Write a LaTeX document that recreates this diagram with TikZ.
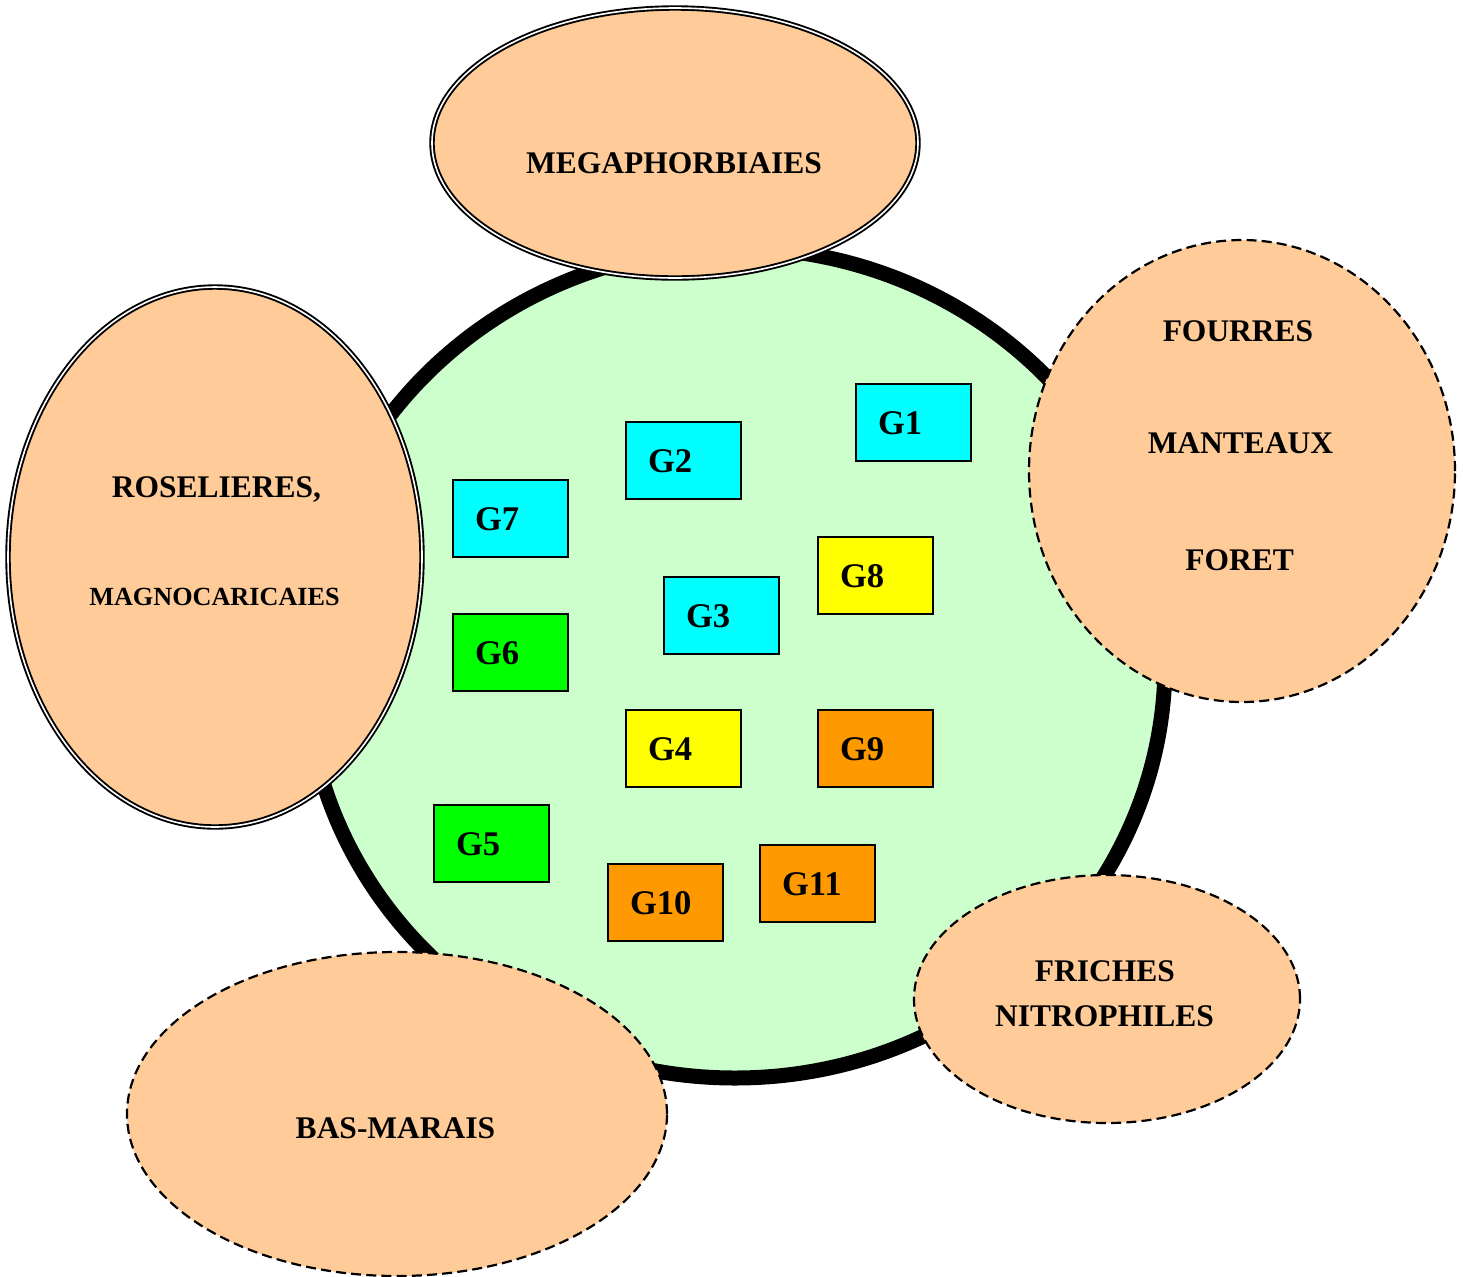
\documentclass[tikz,border=0pt]{standalone}
\usepackage{fontspec}
\setmainfont{Liberation Serif}
\usetikzlibrary{shapes.geometric}
\definecolor{peach}{HTML}{FFCC99}
\definecolor{mint}{HTML}{CCFFCC}
\definecolor{gcyan}{HTML}{00FFFF}
\definecolor{gyellow}{HTML}{FFFF00}
\definecolor{ggreen}{HTML}{00FF00}
\definecolor{gorange}{HTML}{FF9900}
\begin{document}
\begin{tikzpicture}[x=0.5pt,y=-0.5pt,
  habitat/.style={ellipse, fill=peach, inner sep=0pt, outer sep=0pt},
  dbl/.style={habitat, draw=black, line width=0.95pt, double=white, double distance=0.8pt},
  dsh/.style={habitat, draw=black, line width=1.1pt, dash pattern=on 5pt off 2.6pt},
  lbl/.style={font=\bfseries\fontsize{15.75}{18}\selectfont, inner sep=0pt, text height=10.4pt, text depth=0pt},
  small/.style={lbl, font=\bfseries\fontsize{13.1}{15}\selectfont, text height=8.7pt},
  gbox/.style={rectangle, draw=black, line width=1.3pt, minimum width=57.5pt, minimum height=38.5pt,
    inner xsep=11pt, inner ysep=0pt, text width=35.5pt, align=left,
    font=\bfseries\fontsize{17.3}{20}\selectfont, text height=11.5pt, text depth=0pt}
]
\useasboundingbox (0,0) rectangle (1463,1276);
\fill[white] (0,0) rectangle (1463,1276);

% central group
\node[ellipse, draw=black, line width=7.5pt, fill=mint, inner sep=0pt,
      minimum width=430pt, minimum height=415pt] (core) at (735,663) {};

% surrounding habitats
\node[dbl, minimum width=243pt, minimum height=135pt] (mega) at (675,143) {};
\node[dbl, minimum width=207pt, minimum height=270pt] (rose) at (215,557) {};
\node[dsh, minimum width=213pt, minimum height=231pt] (four) at (1242,471) {};
\node[dsh, minimum width=193pt, minimum height=124pt] (fric) at (1107,999) {};
\node[dsh, minimum width=270pt, minimum height=162pt] (bas) at (397,1114) {};

% labels
\node[lbl] (tmega) at (674,163) {MEGAPHORBIAIES};
\node[lbl] (trose) at (216.5,487) {ROSELIERES,};
\node[small] (tmagno) at (214.5,597) {MAGNOCARICAIES};
\node[lbl] (tfour) at (1238,331) {FOURRES};
\node[lbl] (tmant) at (1240.5,443) {MANTEAUX};
\node[lbl] (tfor) at (1239.5,560) {FORET};
\node[lbl] (tfric) at (1105,971) {FRICHES};
\node[lbl] (tnitro) at (1104.5,1016) {NITROPHILES};
\node[lbl] (tbas) at (395.5,1128) {BAS-MARAIS};

% groups
\node[gbox, fill=gcyan] (g1) at (913.5,422.5) {G1};
\node[gbox, fill=gcyan] (g2) at (683.5,460.5) {G2};
\node[gbox, fill=gcyan] (g7) at (510.5,518.5) {G7};
\node[gbox, fill=gyellow] (g8) at (875.5,575.5) {G8};
\node[gbox, fill=gcyan] (g3) at (721.5,615.5) {G3};
\node[gbox, fill=ggreen] (g6) at (510.5,652.5) {G6};
\node[gbox, fill=gyellow] (g4) at (683.5,748.5) {G4};
\node[gbox, fill=gorange] (g9) at (875.5,748.5) {G9};
\node[gbox, fill=ggreen] (g5) at (491.5,843.5) {G5};
\node[gbox, fill=gorange] (g10) at (665.5,902.5) {G10};
\node[gbox, fill=gorange] (g11) at (817.5,883.5) {G11};
\end{tikzpicture}
\end{document}
